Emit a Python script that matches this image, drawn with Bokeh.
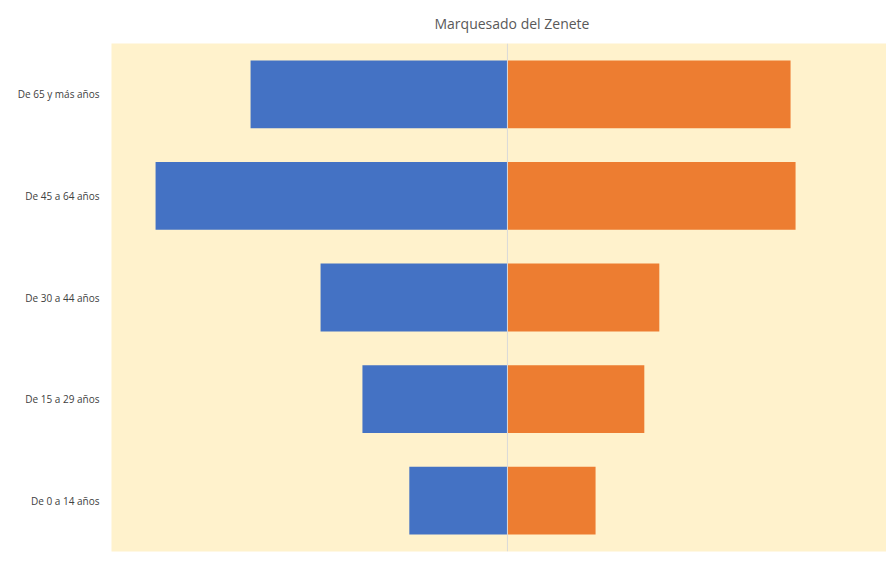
from bokeh.plotting import figure
from bokeh.models import ColumnDataSource, Legend, LegendItem, Range1d, Span
from bokeh.embed import file_html
from bokeh.resources import INLINE

categories = ["De 0 a 14 años", "De 15 a 29 años", "De 30 a 44 años", "De 45 a 64 años", "De 65 y más años"]
hombres = [314, 464, 598, 1126, 822]
mujeres = [282, 438, 486, 922, 906]

src = ColumnDataSource(dict(
    cat=categories,
    h_left=[-v for v in hombres],
    zero=[0] * len(categories),
    m_right=mujeres,
))

p = figure(width=886, height=580, frame_width=775, frame_height=508,
           y_range=categories, x_range=Range1d(-1267, 1213),
           output_backend="svg", toolbar_location=None, x_axis_location=None,
           min_border_left=111, min_border_right=0, min_border_top=43, min_border_bottom=0)
p.background_fill_color = "#FFF2CC"
p.border_fill_color = "white"
p.outline_line_color = None

p.title.text = "Marquesado del Zenete"
p.title.align = "left"
p.title.text_font = "Open Sans"
p.title.text_font_size = "14px"
p.title.text_font_style = "normal"
p.title.text_color = "#595959"
p.title.offset = 323
p.title.standoff = 22

rh = p.hbar(y="cat", left="h_left", right="zero", height=0.667, source=src,
            fill_color="#4472C4", line_color=None)
rm = p.hbar(y="cat", left="zero", right="m_right", height=0.667, source=src,
            fill_color="#ED7D31", line_color=None)

p.add_layout(Span(location=0, dimension="height", line_color="#D9D9D9", line_width=1))

p.xgrid.visible = False
p.ygrid.visible = False
p.yaxis.axis_line_color = None
p.yaxis.major_tick_line_color = None
p.yaxis.minor_tick_line_color = None
p.yaxis.major_label_text_font = "Open Sans"
p.yaxis.major_label_text_font_size = "10px"
p.yaxis.major_label_text_color = "#404040"
p.yaxis.major_label_standoff = 6

legend = Legend(items=[LegendItem(label="Hombres", renderers=[rh]),
                       LegendItem(label="Mujeres", renderers=[rm])],
                orientation="horizontal", location="center",
                label_text_font="Open Sans", label_text_font_size="10px",
                label_text_color="#404040", glyph_width=7, glyph_height=7,
                label_height=12, label_text_baseline="middle",
                spacing=60, padding=0, margin=0, border_line_color=None,
                background_fill_alpha=0, label_standoff=3)
p.add_layout(legend, "below")

open("out.html", "w").write(file_html(p, INLINE))
